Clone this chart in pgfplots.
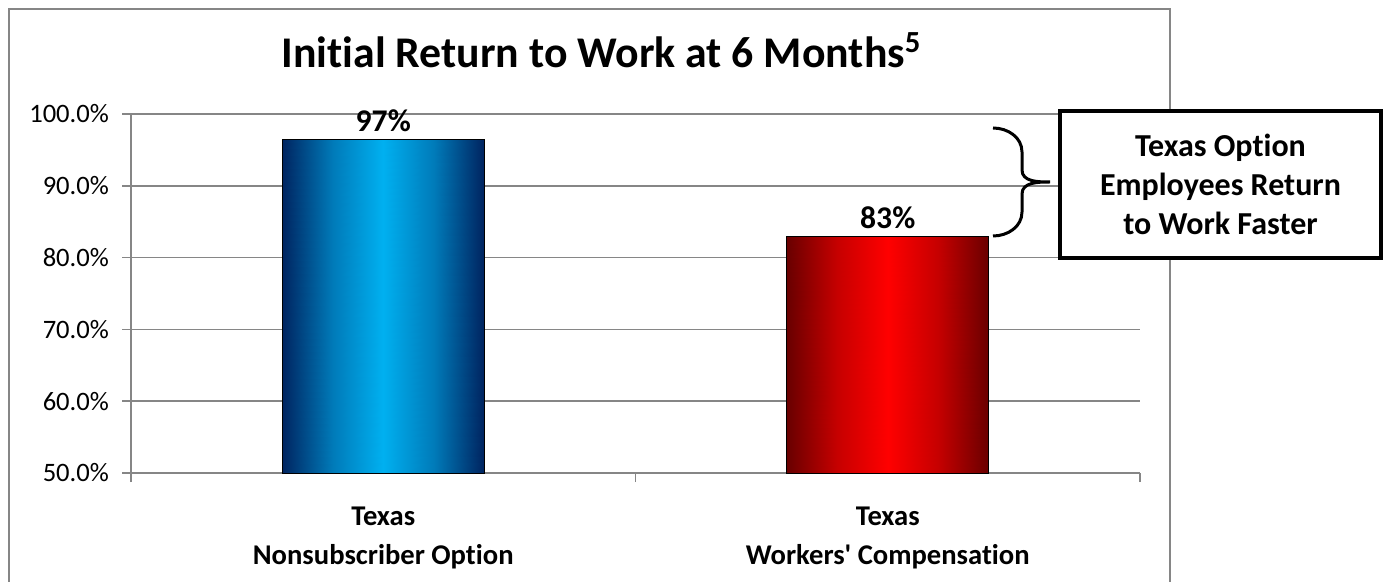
\documentclass[border=0pt]{standalone}
\usepackage{fontspec}
\setmainfont{Carlito}[Ligatures=NoCommon]
\usepackage{pgfplots}
\pgfplotsset{compat=1.18}
\definecolor{gridgray}{RGB}{134,134,134}
\begin{document}
\begin{tikzpicture}
\useasboundingbox (0,0) rectangle (693.5pt,-291pt);
\draw[gridgray, line width=1pt] (4.5pt,-300pt) -- (4.5pt,-4.5pt) -- (585pt,-4.5pt) -- (585pt,-300pt);
\node[anchor=base, font=\bfseries\fontsize{21.9}{24}\selectfont] at (300.75pt,-34pt) {Initial Return to Work at 6 Months\textsuperscript{5}};
\begin{axis}[
  at={(65.5pt,-236.5pt)}, anchor=south west,
  scale only axis, width=504.5pt, height=179.5pt,
  xmin=-0.5, xmax=1.5, ymin=50, ymax=100,
  axis x line*=bottom, axis y line*=left,
  axis line style={gridgray, line width=0.75pt},
  ytick={50,60,...,100},
  ymajorgrids, grid style={gridgray, line width=0.75pt},
  tick align=outside,
  major tick length=4.5pt,
  tick style={gridgray, line width=0.75pt},
  yticklabel={\pgfmathprintnumber[fixed,fixed zerofill,precision=1]{\tick}\%},
  /pgf/number format/assume math mode=true,
  ticklabel style={font=\fontsize{13.3}{15}\selectfont},
  yticklabel style={xshift=-3pt},
  xtick={-0.5,0.5,1.5}, xticklabels={},
  extra x ticks={0,1},
  extra x tick labels={{Texas\\Nonsubscriber Option},{Texas\\Workers\textquotesingle{} Compensation}},
  extra x tick style={major tick length=0pt, grid=none,
    tick label style={align=center, font=\bfseries\fontsize{14.3}{19.5}\selectfont, yshift=-13.5pt}},
  colormap={bars}{rgb255(0cm)=(0,36,96) rgb255(1cm)=(0,176,240) rgb255(2cm)=(105,0,0) rgb255(3cm)=(255,0,0)},
  point meta min=0, point meta max=3,
  clip=false,
]
% gradient fills of the bars
\addplot[surf, shader=interp, mesh/rows=2, point meta=explicit] table[meta=m] {
x y m
-0.2 50 0
-0.1 50 0.62
0 50 1
0.1 50 0.62
0.2 50 0
-0.2 96.5 0
-0.1 96.5 0.62
0 96.5 1
0.1 96.5 0.62
0.2 96.5 0
};
\addplot[surf, shader=interp, mesh/rows=2, point meta=explicit] table[meta=m] {
x y m
0.8 50 2
0.9 50 2.62
1 50 3
1.1 50 2.62
1.2 50 2
0.8 83 2
0.9 83 2.62
1 83 3
1.1 83 2.62
1.2 83 2
};
% outlines and value labels
\addplot[ybar, bar width=101pt, draw=black, fill=none, line width=0.5pt,
  point meta=explicit symbolic, nodes near coords,
  nodes near coords style={font=\bfseries\fontsize{15.8}{18}\selectfont, text=black}]
  coordinates {(0,96.5) [97\%] (1,83) [83\%]};
\end{axis}
\draw[line width=1.5pt] (496.5pt,-64pt) to[out=0,in=90] (511pt,-76pt) -- (511pt,-85pt) to[out=-90,in=180] (525pt,-91pt)
  (525pt,-91pt) to[out=180,in=90] (511pt,-97pt) -- (511pt,-106pt) to[out=-90,in=0] (496.5pt,-118pt);
\draw[line width=1.75pt, fill=white] (530pt,-55.5pt) rectangle (690.5pt,-129pt);
\node[align=center, font=\bfseries\fontsize{16}{19.5}\selectfont] at (610.25pt,-92.25pt) {Texas Option\\Employees Return\\to Work Faster};
\end{tikzpicture}
\end{document}
